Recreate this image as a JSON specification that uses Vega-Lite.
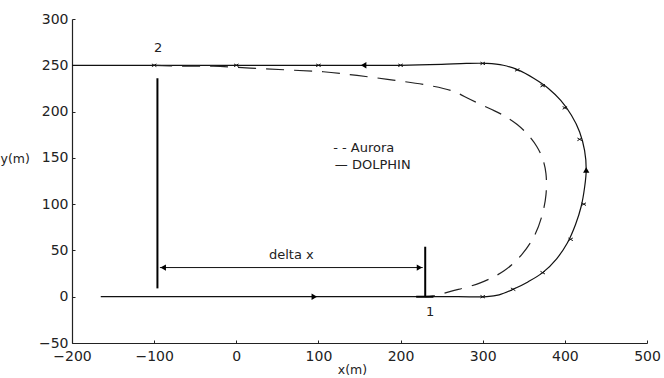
{
  "$schema": "https://vega.github.io/schema/vega-lite/v6.json",
  "width": 575,
  "height": 324,
  "autosize": {"type": "none"},
  "padding": {"left": 72, "top": 19, "right": 17, "bottom": 35},
  "background": "white",
  "config": {
    "view": {"stroke": null},
    "font": "DejaVu Sans",
    "axis": {
      "grid": false,
      "domainColor": "#222",
      "tickColor": "#222",
      "labelColor": "#222",
      "titleColor": "#222",
      "labelFont": "DejaVu Sans",
      "titleFont": "DejaVu Sans",
      "labelFontSize": 14,
      "titleFontSize": 12.5,
      "titleFontWeight": "normal",
      "labelFlush": false,
      "tickSize": -3,
      "domainWidth": 1.2
    }
  },
  "datasets": {
    "dolphin": [
      {"i": 0, "x": -165, "y": 0}, {"i": 0.1, "x": -100, "y": 0}, {"i": 0.2, "x": 0, "y": 0},
      {"i": 0.3, "x": 100, "y": 0}, {"i": 0.4, "x": 200, "y": 0}, {"i": 0.5, "x": 270, "y": 0},
      {"i": 1, "x": 305, "y": 0}, {"i": 2, "x": 320, "y": 2},
      {"i": 3, "x": 337, "y": 8}, {"i": 4, "x": 355, "y": 16}, {"i": 5, "x": 373, "y": 26},
      {"i": 6, "x": 390, "y": 41}, {"i": 7, "x": 403, "y": 58}, {"i": 8, "x": 413, "y": 78},
      {"i": 9, "x": 420, "y": 98}, {"i": 10, "x": 424, "y": 118}, {"i": 11, "x": 426, "y": 137},
      {"i": 12, "x": 424, "y": 158}, {"i": 13, "x": 418, "y": 178}, {"i": 14, "x": 408, "y": 196},
      {"i": 15, "x": 395, "y": 212}, {"i": 16, "x": 380, "y": 225}, {"i": 17, "x": 362, "y": 236},
      {"i": 18, "x": 343, "y": 245}, {"i": 19, "x": 325, "y": 250}, {"i": 20, "x": 305, "y": 252},
      {"i": 21, "x": 280, "y": 252}, {"i": 22, "x": 250, "y": 251}, {"i": 23, "x": 200, "y": 250},
      {"i": 23.1, "x": 100, "y": 250}, {"i": 23.2, "x": 0, "y": 250}, {"i": 23.3, "x": -100, "y": 250},
      {"i": 24, "x": -200, "y": 250}
    ],
    "aurora": [
      {"i": 0, "x": -100, "y": 250}, {"i": 1, "x": -68, "y": 249}, {"i": 2, "x": -28, "y": 249},
      {"i": 3, "x": 17, "y": 247}, {"i": 4, "x": 62, "y": 245}, {"i": 5, "x": 106, "y": 243},
      {"i": 6, "x": 147, "y": 239}, {"i": 7, "x": 191, "y": 234}, {"i": 8, "x": 236, "y": 228},
      {"i": 9, "x": 264, "y": 222}, {"i": 10, "x": 285, "y": 213}, {"i": 11, "x": 309, "y": 203},
      {"i": 12, "x": 325, "y": 196}, {"i": 13, "x": 342, "y": 186}, {"i": 14, "x": 356, "y": 174},
      {"i": 15, "x": 366, "y": 162}, {"i": 16, "x": 373, "y": 149}, {"i": 17, "x": 377, "y": 133},
      {"i": 18, "x": 377, "y": 110}, {"i": 19, "x": 372, "y": 87}, {"i": 20, "x": 363, "y": 66},
      {"i": 21, "x": 348, "y": 46}, {"i": 22, "x": 326, "y": 28}, {"i": 23, "x": 297, "y": 15},
      {"i": 24, "x": 262, "y": 6}, {"i": 25, "x": 240, "y": 1}, {"i": 26, "x": 230, "y": 0}
    ],
    "markers": [
      {"x": -100, "y": 250}, {"x": 0, "y": 250}, {"x": 100, "y": 250}, {"x": 200, "y": 250},
      {"x": 300, "y": 252}, {"x": 342, "y": 245}, {"x": 373, "y": 228}, {"x": 400, "y": 204},
      {"x": 418, "y": 170}, {"x": 423, "y": 100}, {"x": 407, "y": 62}, {"x": 373, "y": 26},
      {"x": 337, "y": 8}, {"x": 300, "y": 0}
    ],
    "arrows": [
      {"x": 155, "y": 250, "dir": "left"}, {"x": 95, "y": 0, "dir": "right"},
      {"x": 426, "y": 137, "dir": "up"}, {"x": -89, "y": 31.5, "dir": "left"},
      {"x": 223, "y": 31.5, "dir": "right"}
    ],
    "thick": [
      {"x": -96, "y": 9, "x2": -96, "y2": 236},
      {"x": 230, "y": 0, "x2": 230, "y2": 54},
      {"x": 219, "y": 0, "x2": 240, "y2": 0}
    ],
    "thin": [
      {"x": -93, "y": 31.5, "x2": 227, "y2": 31.5}
    ],
    "labels": [
      {"x": -95, "y": 269, "t": "2"},
      {"x": 236, "y": -16, "t": "1"},
      {"x": 67, "y": 45, "t": "delta x"}
    ],
    "legend": [
      {"x": 118, "y": 161, "t": "- - Aurora"},
      {"x": 120, "y": 142, "t": "— DOLPHIN"}
    ]
  },
  "layer": [
    {
      "data": {"name": "dolphin"},
      "mark": {"type": "line", "color": "#111", "strokeWidth": 1.2, "interpolate": "catmull-rom"},
      "encoding": {
        "x": {"field": "x", "type": "quantitative", "scale": {"domain": [-200, 500], "nice": false, "zero": false},
              "axis": {"values": [-200, -100, 0, 100, 200, 300, 400, 500], "title": "x(m)", "labelPadding": 9,
                       "titleX": 280, "titleY": 20, "titleBaseline": "top", "titleAnchor": null, "titleAlign": "center"}},
        "y": {"field": "y", "type": "quantitative", "scale": {"domain": [-50, 300], "nice": false, "zero": false},
              "axis": {"values": [-50, 0, 50, 100, 150, 200, 250, 300], "title": "y(m)", "labelPadding": 7,
                       "titleAngle": 0, "titleX": -72, "titleY": 139, "titleAlign": "left", "titleBaseline": "middle", "titleAnchor": null}},
        "order": {"field": "i", "type": "quantitative"}
      }
    },
    {
      "data": {"name": "aurora"},
      "mark": {"type": "line", "color": "#222", "strokeWidth": 1.2, "strokeDash": [18, 10], "interpolate": "catmull-rom"},
      "encoding": {
        "x": {"field": "x", "type": "quantitative"},
        "y": {"field": "y", "type": "quantitative"},
        "order": {"field": "i", "type": "quantitative"}
      }
    },
    {
      "data": {"name": "thick"},
      "mark": {"type": "rule", "color": "#000", "strokeWidth": 2},
      "encoding": {
        "x": {"field": "x", "type": "quantitative"},
        "y": {"field": "y", "type": "quantitative"},
        "x2": {"field": "x2"},
        "y2": {"field": "y2"}
      }
    },
    {
      "data": {"name": "thin"},
      "mark": {"type": "rule", "color": "#111", "strokeWidth": 1},
      "encoding": {
        "x": {"field": "x", "type": "quantitative"},
        "y": {"field": "y", "type": "quantitative"},
        "x2": {"field": "x2"},
        "y2": {"field": "y2"}
      }
    },
    {
      "data": {"name": "markers"},
      "mark": {"type": "point", "shape": "M-1,-0.6L1,0.6M-1,0.6L1,-0.6", "filled": false, "color": "#111", "strokeWidth": 1, "size": 20, "opacity": 1},
      "encoding": {
        "x": {"field": "x", "type": "quantitative"},
        "y": {"field": "y", "type": "quantitative"}
      }
    },
    {
      "data": {"name": "arrows"},
      "mark": {"type": "point", "filled": true, "color": "#000", "size": 40, "opacity": 1},
      "encoding": {
        "x": {"field": "x", "type": "quantitative"},
        "y": {"field": "y", "type": "quantitative"},
        "shape": {"field": "dir", "type": "nominal", "legend": null,
                  "scale": {"domain": ["left", "right", "up"], "range": ["triangle-left", "triangle-right", "triangle-up"]}}
      }
    },
    {
      "data": {"name": "labels"},
      "mark": {"type": "text", "fontSize": 13, "color": "#222", "align": "center", "baseline": "middle", "font": "DejaVu Sans"},
      "encoding": {
        "x": {"field": "x", "type": "quantitative"},
        "y": {"field": "y", "type": "quantitative"},
        "text": {"field": "t"}
      }
    },
    {
      "data": {"name": "legend"},
      "mark": {"type": "text", "fontSize": 13, "color": "#222", "align": "left", "baseline": "middle", "font": "DejaVu Sans"},
      "encoding": {
        "x": {"field": "x", "type": "quantitative"},
        "y": {"field": "y", "type": "quantitative"},
        "text": {"field": "t"}
      }
    }
  ]
}
